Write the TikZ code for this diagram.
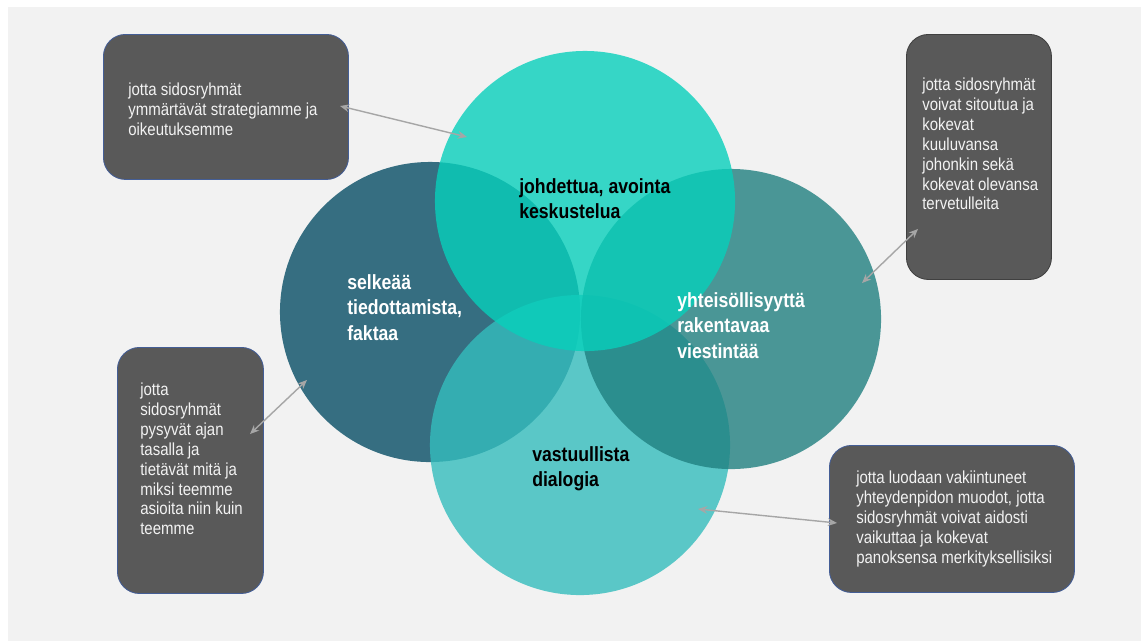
\documentclass[tikz,border=0pt]{standalone}
\usepackage{fontspec}
\setmainfont{Liberation Sans}[FakeStretch=0.86]
\usepackage{tikz}
\usetikzlibrary{arrows.meta, positioning}
\definecolor{bggrey}{RGB}{242,242,242}
\definecolor{boxgrey}{RGB}{89,89,89}
\definecolor{boxedge}{RGB}{68,94,150}
\definecolor{boxedgedark}{RGB}{64,64,64}
\definecolor{linkgrey}{RGB}{166,166,166}
\definecolor{leftblue}{RGB}{7,77,101}
\definecolor{topturq}{RGB}{7,208,187}
\definecolor{rightteal}{RGB}{32,128,128}
\definecolor{bottomturq}{RGB}{52,189,189}

\begin{document}
\begin{tikzpicture}[x=0.025cm, y=-0.025cm,
  circ/.style={circle, minimum size=7.5cm, inner sep=0pt, fill opacity=0.8},
  infobox/.style={draw=boxedge, fill=boxgrey, rounded corners=0.55cm,
                  line width=0.6pt, anchor=north west},
  boxtxt/.style={anchor=north west, inner sep=0pt, align=left, text=bggrey,
                 font=\fontsize{12.4}{14.1}\selectfont},
  lbl/.style={anchor=north west, inner sep=0pt, align=left,
              font=\fontsize{14.6}{18.1}\selectfont\bfseries},
  link/.style={draw=linkgrey, line width=1pt,
               {Stealth[length=6.5pt, width=5.5pt]}-{Stealth[length=6.5pt, width=5.5pt]}}
]

\useasboundingbox (0,0) rectangle (1141,641);
\fill[bggrey] (8,7) rectangle (1141,641);

%--- Circles ---
\node[circ, fill=leftblue]   (cleft)   at (430,312) {};
\node[circ, fill=bottomturq] (cbottom) at (580,445) {};
\node[circ, fill=rightteal]  (cright)  at (731,319) {};
\node[circ, fill=topturq]    (ctop)    at (585,201) {};

%--- Circle labels ---
\node[lbl, text=black] (ltop)    at (519,178) {johdettua, avointa\\keskustelua};
\node[lbl, text=white] (lleft)   at (347,274) {selkeää\\tiedottamista,\\faktaa};
\node[lbl, text=white] (lright)  at (677,292) {yhteisöllisyyttä\\rakentavaa\\viestintää};
\node[lbl, text=black] (lbottom) at (532,446) {vastuullista\\dialogia};

%--- Boxes ---
\node[infobox, minimum width=6.125cm, minimum height=3.625cm] (box1) at (103,34) {};
\node[infobox, draw=boxedgedark, minimum width=3.625cm, minimum height=6.125cm] (box2) at (906,34) {};
\node[infobox, minimum width=3.65cm, minimum height=6.15cm] (box3) at (117,347) {};
\node[infobox, minimum width=6.125cm, minimum height=3.675cm] (box4) at (829,445) {};

\node[boxtxt] (t1) at (128,83) {jotta sidosryhmät\\ymmärtävät strategiamme ja\\oikeutuksemme};
\node[boxtxt] (t2) at (922,78) {jotta sidosryhmät\\voivat sitoutua ja\\kokevat\\kuuluvansa\\johonkin sekä\\kokevat olevansa\\tervetulleita};
\node[boxtxt] (t3) at (140,383) {jotta\\sidosryhmät\\pysyvät ajan\\tasalla ja\\tietävät mitä ja\\miksi teemme\\asioita niin kuin\\teemme};
\node[boxtxt] (t4) at (856,471) {jotta luodaan vakiintuneet\\yhteydenpidon muodot, jotta\\sidosryhmät voivat aidosti\\vaikuttaa ja kokevat\\panoksensa merkityksellisiksi};

%--- Links ---
\coordinate (p1box) at (340,106);
\coordinate (p1circ) at (467,137);
\coordinate (p2box) at (918,229);
\coordinate (p2circ) at (862,283);
\coordinate (p3box) at (250,434);
\coordinate (p3circ) at (307,380);
\coordinate (p4box) at (837,523);
\coordinate (p4circ) at (698,509);

\draw[link] (p1box) -- (p1circ);
\draw[link] (p2box) -- (p2circ);
\draw[link] (p3box) -- (p3circ);
\draw[link] (p4box) -- (p4circ);

\end{tikzpicture}
\end{document}
